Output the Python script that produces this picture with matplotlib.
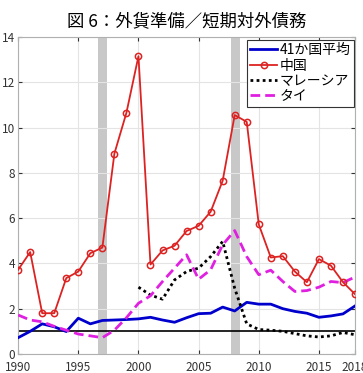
import numpy as np
import matplotlib.pyplot as plt

plt.rcParams['font.family'] = ['Noto Sans CJK JP', 'DejaVu Sans']

years = np.arange(1990, 2019)

avg41 = [0.72, 1.0, 1.33, 1.2, 0.99, 1.58, 1.33, 1.48, 1.5, 1.52, 1.55, 1.62, 1.5, 1.4,
         1.6, 1.78, 1.8, 2.07, 1.9, 2.28, 2.2, 2.2, 2.0, 1.88, 1.8, 1.62, 1.68, 1.77, 2.12]
china = [3.72, 4.5, 1.8, 1.8, 3.35, 3.64, 4.45, 4.7, 8.85, 10.65, 13.15, 3.95, 4.57, 4.78,
         5.43, 5.66, 6.28, 7.65, 10.55, 10.25, 5.72, 4.26, 4.32, 3.64, 3.17, 4.19, 3.9, 3.17, 2.64]
my_years = np.arange(2000, 2019)
malaysia = [2.95, 2.6, 2.42, 3.27, 3.64, 3.79, 4.3, 4.97, 2.9, 1.33, 1.08, 1.05, 1.0,
            0.9, 0.8, 0.75, 0.8, 0.95, 0.85]
thai = [1.72, 1.5, 1.42, 1.22, 1.05, 0.88, 0.8, 0.72, 1.05, 1.6, 2.24, 2.57, 3.2, 3.79,
        4.38, 3.3, 3.72, 4.82, 5.45, 4.3, 3.5, 3.7, 3.2, 2.76, 2.8, 2.95, 3.2, 3.15, 3.4]
crisis = [(1996.6, 1997.4), (2007.7, 2008.4)]

fig = plt.figure(figsize=(3.63, 3.73), dpi=100)
ax = fig.add_axes([0.05, 0.051, 0.928, 0.85])

for a, b in crisis:
    ax.axvspan(a, b, color='#c8c8c8', lw=0, zorder=1)
ax.axhline(1, color='black', lw=1.2, zorder=2)

ax.plot(years, avg41, color='#0000cc', lw=2, label='41か国平均', zorder=3)
ax.plot(years, china, color='#dd2222', lw=1.3, marker='o', ms=4.5, mfc='none',
        mew=1.1, label='中国', zorder=4)
ax.plot(my_years, malaysia, color='black', lw=2, ls=(0, (1, 1.2)), label='マレーシア', zorder=3)
ax.plot(years, thai, color='#e020e0', lw=2, ls=(0, (3.5, 1.8)), label='タイ', zorder=3)

ax.set_xlim(1990, 2018)
ax.set_ylim(0, 14)
ax.set_xticks([1990, 1995, 2000, 2005, 2010, 2015, 2018])
ax.set_yticks(np.arange(0, 15, 2))
ax.grid(True, color='#e4e4e4', lw=0.8, zorder=0)
ax.tick_params(direction='in', labelsize=8.5, length=3, colors='#333333',
               right=True, top=True)
ax.tick_params(axis='x', pad=5)
ax.tick_params(axis='y', pad=2)
for s in ax.spines.values():
    s.set_color('#b0b0b0')
    s.set_linewidth(0.8)

ax.set_title('図 6：外貨準備／短期対外債務', fontsize=12.5, pad=8)

leg = ax.legend(loc='upper right', fontsize=10, handlelength=1.9, handletextpad=0.2,
                borderpad=0.25, labelspacing=0.1, borderaxespad=0.2, framealpha=1,
                fancybox=False, edgecolor='#333333', bbox_to_anchor=(1.005, 1.0))
leg.get_frame().set_linewidth(0.8)

fig.savefig('out.png', dpi=100)
